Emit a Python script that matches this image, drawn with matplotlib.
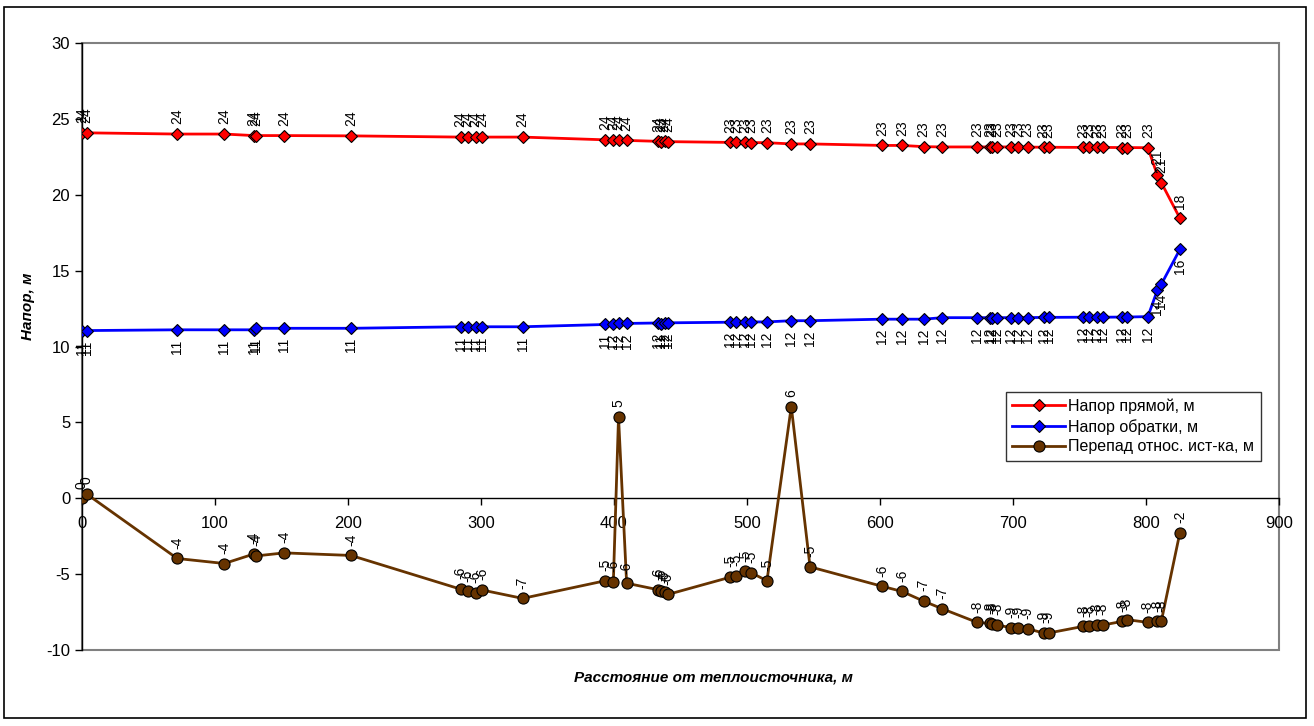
import numpy as np
import matplotlib
matplotlib.use('Agg')
import matplotlib.pyplot as plt
from matplotlib.patches import Rectangle

plt.rcParams['font.family'] = ['Liberation Sans', 'DejaVu Sans']
plt.rcParams['axes.unicode_minus'] = False

# distance from source, m
dist = [0, 3.5, 71.6, 107, 129, 131, 152, 202.3, 284.6, 290, 296, 301, 331.3,
        393.2, 399.5, 403.4, 409.5, 433.3, 435.5, 438, 440.5, 487.5, 491.9, 498.8,
        503, 515, 533.3, 547.4, 601.5, 616.5, 632.8, 646.7, 673, 682.7, 684.4,
        688.1, 698.8, 703.9, 711, 723, 726.8, 753, 757.3, 763, 767.4, 782.3,
        785.6, 801.4, 808.5, 811.5, 825.5]

# supply head, m
head_supply = [24.1, 24.08, 24.0, 24.0, 23.9, 23.9, 23.9, 23.88, 23.8, 23.8, 23.8, 23.8, 23.8,
               23.62, 23.6, 23.6, 23.58, 23.52, 23.49, 23.51, 23.5, 23.45, 23.45, 23.45,
               23.44, 23.43, 23.35, 23.35, 23.25, 23.25, 23.17, 23.15, 23.15, 23.15, 23.15,
               23.15, 23.15, 23.14, 23.14, 23.13, 23.13, 23.12, 23.12, 23.12, 23.12, 23.11,
               23.11, 23.1, 21.3, 20.8, 18.45]

# return head, m
head_return = [11.03, 11.05, 11.1, 11.1, 11.1, 11.2, 11.2, 11.2, 11.3, 11.3, 11.3, 11.3, 11.3,
               11.45, 11.5, 11.52, 11.52, 11.55, 11.45, 11.55, 11.56, 11.6, 11.6, 11.6,
               11.62, 11.62, 11.7, 11.7, 11.8, 11.8, 11.8, 11.9, 11.9, 11.9, 11.9,
               11.9, 11.9, 11.9, 11.9, 11.92, 11.92, 11.93, 11.93, 11.93, 11.93, 11.94,
               11.94, 11.97, 13.7, 14.1, 16.4]

# differential relative to source, m
head_diff = [0.0, 0.28, -3.97, -4.3, -3.68, -3.8, -3.6, -3.77, -5.99, -6.14, -6.25, -6.05, -6.6,
             -5.44, -5.53, 5.35, -5.6, -6.03, -6.1, -6.2, -6.34, -5.2, -5.1, -4.82,
             -4.9, -5.44, 6.04, -4.52, -5.8, -6.14, -6.78, -7.28, -8.18, -8.25, -8.27,
             -8.36, -8.53, -8.53, -8.6, -8.88, -8.88, -8.44, -8.44, -8.36, -8.36, -8.11,
             -8.0, -8.18, -8.11, -8.11, -2.26]

labels = ['Напор прямой, м', 'Напор обратки, м', 'Перепад относ. ист-ка, м']


def xl_round(v):
    # Excel-style rounding (half away from zero)
    r = int(np.floor(abs(v) + 0.5))
    if v < 0 and r != 0:
        return f"-{r}"
    return f"{r}"


W, H = 1314, 726
fig = plt.figure(figsize=(W / 100, H / 100), dpi=100)
ax = fig.add_axes([82 / W, 1 - 650 / H, (1279 - 82) / W, (650 - 43) / H])

brown = '#663300'
ax.plot(dist, head_supply, color='#ff0000', lw=2, marker='D', ms=6,
        mfc='#ff0000', mec='black', mew=0.8, label=labels[0], zorder=3)
ax.plot(dist, head_return, color='#0000ff', lw=2, marker='D', ms=6,
        mfc='#0000ff', mec='black', mew=0.8, label=labels[1], zorder=3)
ax.plot(dist, head_diff, color=brown, lw=2, marker='o', ms=8,
        mfc=brown, mec='black', mew=0.8, label=labels[2], zorder=3)

for x, y in zip(dist, head_supply):
    ax.annotate(xl_round(y), (x, y), xytext=(0, 7), va='bottom', ha='center',
                textcoords='offset points', rotation=90, fontsize=10)
for x, y in zip(dist, head_return):
    ax.annotate(xl_round(y), (x, y), xytext=(0, -7), va='top', ha='center',
                textcoords='offset points', rotation=90, fontsize=10)
for x, y in zip(dist, head_diff):
    ax.annotate(xl_round(y), (x, y), xytext=(0, 7), va='bottom', ha='center',
                textcoords='offset points', rotation=90, fontsize=10)

ax.set_xlim(0, 900)
ax.set_ylim(-10, 30)
ax.set_xticks(np.arange(0, 901, 100))
ax.set_yticks(np.arange(-10, 31, 5))

for s in ['top', 'right']:
    ax.spines[s].set_visible(False)
ax.spines['bottom'].set_position(('data', 0))
ax.spines['bottom'].set_linewidth(1)
ax.spines['left'].set_linewidth(1)
ax.tick_params(axis='both', labelsize=12, direction='out', length=5, width=1)
ax.tick_params(axis='x', pad=8)

# grey plot-area frame
ax.add_patch(Rectangle((0, 0), 1, 1, transform=ax.transAxes, fill=False,
                       edgecolor='#808080', lw=1.5, zorder=0, clip_on=False))

leg = ax.legend(loc='upper left', bbox_to_anchor=(0.772, 0.425), fontsize=11.5,
                frameon=True, fancybox=False, borderaxespad=0, handlelength=3.3,
                handletextpad=0.2, borderpad=0.4, labelspacing=0.3)
leg.get_frame().set_edgecolor('black')
leg.get_frame().set_linewidth(1)

fig.text(28 / W, 1 - 306 / H, 'Напор, м', rotation=90, ha='center', va='center',
         fontsize=11, fontweight='bold', fontstyle='italic')
fig.text(713 / W, 1 - 678 / H, 'Расстояние от теплоисточника, м', ha='center',
         va='center', fontsize=11, fontweight='bold', fontstyle='italic')

# outer chart border
fig.patches.append(Rectangle((4 / W, 1 - 718 / H), 1302 / W, 711 / H,
                             transform=fig.transFigure, fill=False,
                             edgecolor='black', lw=1.2))

fig.savefig('out.png', dpi=100)
